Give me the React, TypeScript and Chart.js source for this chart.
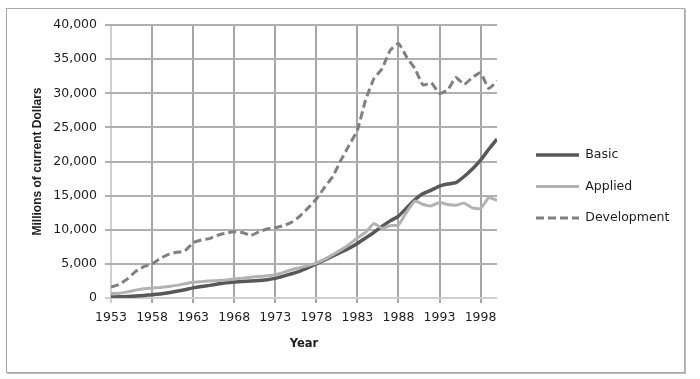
import React, { useEffect, useRef } from "react";
import { Chart, registerables } from "chart.js";

Chart.register(...registerables);

const years = [
  1953, 1954, 1955, 1956, 1957, 1958, 1959, 1960, 1961, 1962,
  1963, 1964, 1965, 1966, 1967, 1968, 1969, 1970, 1971, 1972,
  1973, 1974, 1975, 1976, 1977, 1978, 1979, 1980, 1981, 1982,
  1983, 1984, 1985, 1986, 1987, 1988, 1989, 1990, 1991, 1992,
  1993, 1994, 1995, 1996, 1997, 1998, 1999, 2000,
];

const xTickYears = [1953, 1958, 1963, 1968, 1973, 1978, 1983, 1988, 1993, 1998];

const basic = [
  150, 180, 220, 290, 380, 470, 600, 760, 980, 1220,
  1480, 1680, 1850, 2050, 2230, 2350, 2420, 2480, 2550, 2680,
  2870, 3200, 3560, 3950, 4450, 5000, 5550, 6150, 6700, 7300,
  8000, 8800, 9600, 10500, 11300, 12000, 13200, 14400, 15300, 15800,
  16400, 16700, 16900, 17800, 18900, 20200, 21800, 23300,
];

const applied = [
  650, 700, 900, 1150, 1350, 1450, 1550, 1700, 1850, 2100,
  2300, 2400, 2500, 2550, 2650, 2800, 2900, 3050, 3150, 3250,
  3400, 3750, 4150, 4450, 4750, 5100, 5650, 6350, 7050, 7850,
  8800, 9600, 10900, 10200, 10600, 10700, 12600, 14200, 13700, 13500,
  14000, 13700, 13600, 13900, 13200, 13100, 14700, 14300,
];

const development = [
  1600, 2000, 2800, 3900, 4600, 5000, 5800, 6400, 6700, 6900,
  8100, 8500, 8700, 9200, 9500, 9700, 9600, 9150, 9700, 10100,
  10300, 10600, 11100, 12000, 13200, 14500, 16200, 17800, 20200, 22400,
  24600, 29000, 32100, 33600, 36300, 37300, 35300, 33600, 31200, 31500,
  30000, 30500, 32300, 31300, 32300, 33000, 30700, 31800,
];

const seriesNames = ["Basic", "Applied", "Development"];
const yTitle = "Millions of current Dollars";
const xTitle = "Year";

const FONT = "'DejaVu Sans', sans-serif";
const GRID = "#a6a6a6";
const HGRID = "#b0b0b0";
const AXIS = "#cfcfcf";
const TEXT = "#1e1e1e";

const toPoints = (vals: number[]) => vals.map((v, i) => ({ x: years[i], y: v }));

export default function App() {
  const ref = useRef<HTMLCanvasElement>(null);

  useEffect(() => {
    if (!ref.current) return;

    const legendPlace = {
      id: "legendPlace",
      beforeLayout(chart: any) {
        const lg = chart.legend;
        if (lg && !lg.__patched) {
          const orig = lg.fit.bind(lg);
          lg.fit = function () {
            orig();
            this.width = 203;
          };
          lg.__patched = true;
        }
      },
      afterLayout(chart: any) {
        const lg = chart.legend;
        if (!lg) return;
        const pad = lg.options.labels.padding;
        const dx = 536 - (lg.left + pad);
        lg.left += dx;
        lg.right += dx;
        const colH = lg.columnSizes && lg.columnSizes[0] ? lg.columnSizes[0].height : 0;
        const fs = 12.5;
        const cy = (lg.top + pad + lg.bottom - colH) / 2;
        const dy = 155 - fs / 2 - cy;
        lg.top += dy;
        lg.bottom += dy;
      },
    };

    // horizontal grid lines at the y scale's own ticks
    const yGrid = {
      id: "yGrid",
      beforeDatasetsDraw(chart: any) {
        const { ctx, chartArea: a } = chart;
        const ys = chart.scales.y;
        ctx.save();
        ys.ticks.forEach((t: any) => {
          const py = Math.round(ys.getPixelForValue(t.value));
          ctx.fillStyle = t.value === 0 ? AXIS : HGRID;
          ctx.fillRect(Math.round(a.left) - 6, py - 1, Math.round(a.right - a.left) + 6, 2);
        });
        ctx.restore();
      },
    };

    const chart = new Chart(ref.current, {
      type: "line",
      data: {
        datasets: [
          {
            label: seriesNames[0],
            data: toPoints(basic),
            borderColor: "#585858",
            backgroundColor: "#585858",
            borderWidth: 3.5,
            pointRadius: 0,
            tension: 0.15,
            fill: false,
            order: 2,
          },
          {
            label: seriesNames[1],
            data: toPoints(applied),
            borderColor: "#b2b2b2",
            backgroundColor: "#b2b2b2",
            borderWidth: 3,
            pointRadius: 0,
            tension: 0.15,
            fill: false,
            order: 1,
          },
          {
            label: seriesNames[2],
            data: toPoints(development),
            borderColor: "#808080",
            backgroundColor: "#808080",
            borderWidth: 3,
            borderDash: [8, 4],
            pointRadius: 0,
            tension: 0.15,
            fill: false,
            order: 0,
          },
        ],
      },
      options: {
        responsive: false,
        maintainAspectRatio: false,
        animation: false,
        devicePixelRatio: 1,
        layout: { padding: { top: 25, left: 0, right: 0, bottom: 0 } },
        plugins: {
          tooltip: { enabled: false },
          legend: {
            position: "right",
            labels: {
              usePointStyle: true,
              pointStyle: "line",
              pointStyleWidth: 43,
              padding: 19,
              color: TEXT,
              font: { family: FONT, size: 12.5 },
              sort: (a: any, b: any) => a.datasetIndex - b.datasetIndex,
              generateLabels: (c: any) => {
                const items = (Chart as any).defaults.plugins.legend.labels.generateLabels(c);
                return items.map((it: any) => {
                  const ds: any = c.data.datasets[it.datasetIndex];
                  return {
                    ...it,
                    lineWidth: ds.borderWidth,
                    lineDash: ds.borderDash || [],
                    strokeStyle: ds.borderColor,
                    pointStyle: "line",
                  };
                });
              },
            },
          },
        },
        scales: {
          x: {
            type: "linear",
            min: 1953,
            max: 2000,
            afterBuildTicks: (s: any) => {
              s.ticks = xTickYears.map((v) => ({ value: v }));
            },
            grid: {
              color: (c: any) => (c.index === 0 ? AXIS : GRID),
              tickLength: 5,
              lineWidth: 2,
            },
            border: { display: false },
            ticks: {
              autoSkip: false,
              maxRotation: 0,
              minRotation: 0,
              padding: 7,
              color: TEXT,
              font: { family: FONT, size: 12.5 },
              callback: (v: any) => String(v),
            },
            title: {
              display: true,
              text: xTitle,
              color: TEXT,
              font: { family: FONT, size: 11.5, weight: "bold" },
              padding: { top: 0, bottom: 28 },
            },
            afterFit: (s: any) => {
              s.height = 81;
            },
          },
          y: {
            type: "linear",
            min: 0,
            max: 40000,
            grid: {
              color: (c: any) => (c.tick && c.tick.value === 0 ? AXIS : HGRID),
              tickLength: 6,
              lineWidth: 2,
            },
            border: { display: false },
            ticks: {
              stepSize: 5000,
              padding: 8,
              color: TEXT,
              font: { family: FONT, size: 12.5 },
              callback: (v: any) => Number(v).toLocaleString("en-US"),
            },
            title: {
              display: true,
              text: yTitle,
              color: TEXT,
              font: { family: "'Liberation Sans', Arial, sans-serif", size: 12, weight: "bold" },
              padding: { top: 30, bottom: 0 },
            },
            afterFit: (s: any) => {
              s.width = 111;
            },
          },
        },
      },
      plugins: [legendPlace, yGrid],
    } as any);

    return () => chart.destroy();
  }, []);

  return (
    <>
      <div
        style={{
          position: "absolute",
          left: 0,
          top: 0,
          width: 700,
          height: 379,
          background: "#fff",
        }}
      >
        <canvas
          ref={ref}
          width={700}
          height={379}
          style={{ display: "block", width: 700, height: 379 }}
        />
      </div>
      <div
        style={{
          position: "absolute",
          left: 6,
          top: 8,
          width: 677,
          height: 363,
          border: "1px solid #a8a8a8",
          boxShadow: "1px 1px 0 #bdbdbd",
          pointerEvents: "none",
        }}
      />
    </>
  );
}
